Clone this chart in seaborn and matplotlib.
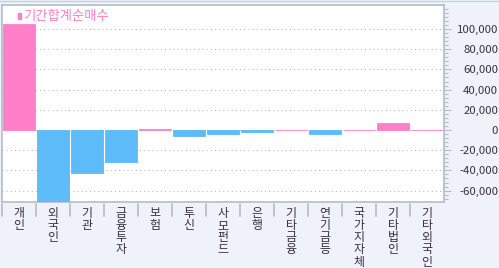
import matplotlib
matplotlib.use("Agg")
import matplotlib.pyplot as plt
import matplotlib.ticker as mticker
import matplotlib.transforms as mtransforms
from matplotlib.patches import Rectangle
from matplotlib.lines import Line2D
import seaborn as sns
import pandas as pd

categories = ["개인", "외국인", "기관", "금융투자", "보험", "투신", "사모펀드",
              "은행", "기타금융", "연기금등", "국가지자체", "기타법인", "기타외국인"]
values = [105000, -70000, -43000, -31500, 600, -5600, -3700,
          -1700, 400, -3700, 400, 7200, 400]
series_name = "기간합계순매수"
yticks = [-60000, -40000, -20000, 0, 20000, 40000, 60000, 80000, 100000]

PINK = "#FF80C8"
BLUE = "#5CBBF8"
BG = "#EFF2F8"
BORDER = "#B4BCC6"
TXT = "#333340"

sns.set_theme(style="white")
plt.rcParams["font.family"] = ["Noto Sans CJK KR", "DejaVu Sans"]

df = pd.DataFrame({"cat": categories, "val": values})
palette = {c: (PINK if v >= 0 else BLUE) for c, v in zip(categories, values)}

W, H = 499, 268
fig = plt.figure(figsize=(W / 100, H / 100), dpi=100, facecolor=BG)
x0, x1, yt, yb = 2, 444, 5, 202
ax = fig.add_axes([x0 / W, 1 - yb / H, (x1 - x0) / W, (yb - yt) / H])
ax.set_facecolor("white")

sns.barplot(data=df, x="cat", y="val", hue="cat", palette=palette,
            legend=False, width=0.93, saturation=1, ax=ax, zorder=3)
for p in ax.patches:
    p.set_edgecolor(p.get_facecolor())
    p.set_linewidth(0.6)

ymax = (130 - yt) / 1.01 * 1000
ymin = -(yb - 130) / 1.01 * 1000
ax.set_ylim(ymin, ymax)
ax.set_xlim(-0.5, len(categories) - 0.5)

ax.yaxis.tick_right()
ax.set_yticks(yticks)
ax.yaxis.set_minor_locator(mticker.MultipleLocator(4000))
ax.yaxis.set_major_formatter(mticker.FuncFormatter(lambda v, p: f"{int(v):,}"))
ax.tick_params(axis="y", which="major", length=5, width=0.8, color=BORDER,
               labelsize=8.2, labelcolor=TXT, pad=34)
ax.tick_params(axis="y", which="minor", length=3, width=0.8, color=BORDER)
for lab in ax.get_yticklabels():
    lab.set_horizontalalignment("right")
ax.set_ylabel("")
ax.set_xlabel("")

ax.grid(axis="y", which="major", color="#B8B8B8", linewidth=0.75,
        linestyle=(0, (1, 3)), zorder=0)
ax.set_axisbelow(True)

for s in ax.spines.values():
    s.set_color(BORDER)
    s.set_linewidth(1.2)

# vertical stacked x labels (one character per line)
ax.set_xticks(range(len(categories)))
ax.set_xticklabels([""] * len(categories))
ax.tick_params(axis="x", length=0)
lab_trans = mtransforms.blended_transform_factory(ax.transData, fig.transFigure)
pitch = 12.3
for i, cat in enumerate(categories):
    for j, ch in enumerate(cat):
        ycen = 213 + pitch * j
        ax.text(i, 1 - ycen / H, ch, transform=lab_trans, ha="center",
                va="center", fontsize=8.6, color=TXT, clip_on=False)

# category separators below axis
trans = ax.get_xaxis_transform()
for k in range(len(categories)):
    ax.plot([k - 0.5, k - 0.5], [-2 / 197, -14 / 197], transform=trans,
            color=BORDER, linewidth=1.2, clip_on=False)

# legend
fig.patches.append(Rectangle((18 / W, 1 - 19 / H), 3 / W, 6 / H,
                             transform=fig.transFigure, color=PINK))
fig.text(23 / W, 1 - 16 / H, series_name, color=PINK, fontsize=9.6, va="center")

fig.add_artist(Line2D([0, 1], [1 - 0.5 / H, 1 - 0.5 / H], color="#C8D0DA",
                      linewidth=1, transform=fig.transFigure))

fig.savefig("out.png", dpi=100, facecolor=BG)
